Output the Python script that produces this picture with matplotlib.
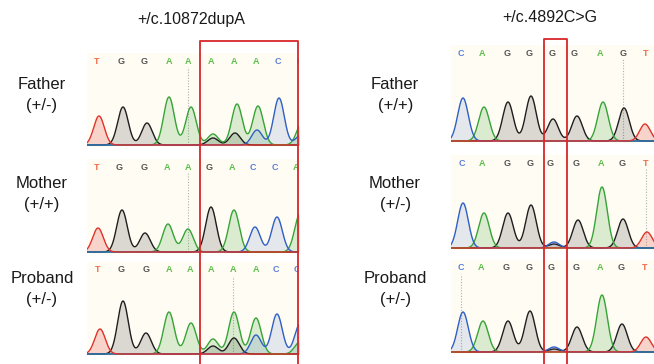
import numpy as np
import matplotlib
matplotlib.use("Agg")
import matplotlib.pyplot as plt
from matplotlib.lines import Line2D

plt.rcParams['font.family'] = ['Liberation Sans', 'DejaVu Sans']

W, H = 654, 364

# ---------------- data ----------------
titles = ["+/c.10872dupA", "+/c.4892C>G"]
members = ["Father", "Mother", "Proband"]
genotypes_left = ["(+/-)", "(+/+)", "(+/-)"]
genotypes_right = ["(+/+)", "(+/-)", "(+/-)"]

# base calls (letters) and their scan positions for each panel
calls_lf = list("TGGAAAAACC")
callpos_lf = [10, 34, 57, 82, 101, 124, 147, 169, 191, 213]
calls_lm = list("TGGAAGACCA")
callpos_lm = [10, 32, 57, 80, 101, 122, 145, 166, 188, 209]
calls_lp = list("TGGAAAAACC")
callpos_lp = [11, 34, 59, 82, 103, 124, 146, 169, 189, 210]
calls_r = list("CAGGGGAGT")
callpos_rf = [10, 31, 56, 78, 101, 123, 149, 172, 195]
callpos_rm = [11, 31, 56, 79, 99, 125, 150, 171, 195]
callpos_rp = [10, 30, 55, 78, 100, 125, 149, 170, 194]

# peaks: scan position, base channel, amplitude
pk_pos_lf = [12, 36, 60, 82, 104, 126, 126, 150, 148, 171, 170, 192, 215, 214]
pk_base_lf = list("TGGAAAGAGACCAC")
pk_amp_lf = [29, 38, 22, 48, 38, 11, 7, 41, 12, 39, 15, 47, 22, 10]

pk_pos_lm = [11, 35, 58, 81, 101, 124, 147, 168, 190, 213]
pk_base_lm = list("TGGAAGACCA")
pk_amp_lm = [24, 42, 19, 28, 23, 45, 42, 25, 35, 38]

pk_pos_lp = [13, 36, 59, 82, 104, 126, 126, 147, 147, 169, 169, 190, 213, 213]
pk_base_lp = list("TGGAAAGAGACCCA")
pk_amp_lp = [25, 53, 21, 42, 31, 15, 8, 42, 16, 36, 19, 40, 30, 12]

pk_pos_rf = [12, 33, 57, 80, 102, 126, 152, 173, 194]
pk_base_rf = list("CAGGGGAGT")
pk_amp_rf = [43, 34, 39, 45, 22, 25, 39, 33, 17]

pk_pos_rm = [12, 33, 57, 80, 103, 103, 127, 151, 172, 196]
pk_base_rm = list("CAGGCGGAGT")
pk_amp_rm = [45, 35, 35, 43, 6, 4, 28, 61, 29, 16]

pk_pos_rp = [12, 32, 57, 79, 103, 103, 126, 151, 171, 195]
pk_base_rp = list("CAGGCGGAGT")
pk_amp_rp = [40, 31, 31, 41, 5, 3, 25, 57, 28, 15]

# cursor (dotted) line positions
cursor_l = [101, 101, 146]
cursor_r = [172, 195, 10]

# ---------------- style ----------------
line_col = {'A': '#36a336', 'C': '#2f5fc4', 'G': '#1e1e1e', 'T': '#e0322a'}
fill_col = {'A': '#36a336', 'C': '#2f5fc4', 'G': '#1e1e1e', 'T': '#e0322a'}
fill_alpha = {'A': 0.18, 'C': 0.13, 'G': 0.16, 'T': 0.2}
text_col = {'A': '#5cbf4a', 'C': '#5a80d6', 'G': '#555555', 'T': '#f06a4a'}
BG = '#fffcf3'
RED = '#d9262a'
SIGMA = 5.3

fig = plt.figure(figsize=(W / 100, H / 100), dpi=100)
fig.patch.set_facecolor('white')


def px_axes(x0, x1, ytop, ybot):
    return fig.add_axes([x0 / W, 1 - ybot / H, (x1 - x0) / W, (ybot - ytop) / H])


def draw_panel(ax, width, height, calls, callpos, pk_pos, pk_base, pk_amp, cursor):
    ax.set_facecolor(BG)
    for s in ax.spines.values():
        s.set_visible(False)
    ax.set_xticks([])
    ax.set_yticks([])
    ax.set_xlim(0, width)
    ax.set_ylim(-2, height - 2)
    x = np.linspace(-10, width + 10, 1200)
    pk_pos = np.asarray(pk_pos, float)
    pk_amp = np.asarray(pk_amp, float)
    pk_base = np.asarray(pk_base)
    for b in ['G', 'A', 'C', 'T']:
        m = pk_base == b
        y = np.zeros_like(x)
        for p, a in zip(pk_pos[m], pk_amp[m]):
            y += a * np.exp(-(x - p) ** 2 / (2 * SIGMA ** 2))
        ax.fill_between(x, 0, y, color=fill_col[b], alpha=fill_alpha[b], lw=0, zorder=2)
        ax.plot(x, y, color=line_col[b], lw=1.0, zorder=3)
    # cursor
    ax.plot([cursor, cursor], [0, height - 16], color='#b0b0b0', lw=0.8,
            ls=(0, (1, 1.5)), zorder=1)
    for c, p in zip(calls, callpos):
        ax.text(p, height - 10, c, color=text_col[c], fontsize=6.5,
                ha='center', va='center', zorder=4, clip_on=True,
                fontweight='bold')


# left panels
L_X0, L_X1 = 87, 299
left_rows = [(53, 147), (159, 254), (262, 356)]
left_data = [
    (calls_lf, callpos_lf, pk_pos_lf, pk_base_lf, pk_amp_lf),
    (calls_lm, callpos_lm, pk_pos_lm, pk_base_lm, pk_amp_lm),
    (calls_lp, callpos_lp, pk_pos_lp, pk_base_lp, pk_amp_lp),
]
for (yt, yb), d, cur in zip(left_rows, left_data, cursor_l):
    ax = px_axes(L_X0, L_X1, yt, yb)
    draw_panel(ax, L_X1 - L_X0, yb - yt, *d, cur)

# right panels
R_X0, R_X1 = 451, 654
right_rows = [(45, 143), (155, 250), (260, 354)]
right_data = [
    (calls_r, callpos_rf, pk_pos_rf, pk_base_rf, pk_amp_rf),
    (calls_r, callpos_rm, pk_pos_rm, pk_base_rm, pk_amp_rm),
    (calls_r, callpos_rp, pk_pos_rp, pk_base_rp, pk_amp_rp),
]
for (yt, yb), d, cur in zip(right_rows, right_data, cursor_r):
    ax = px_axes(R_X0, R_X1, yt, yb)
    draw_panel(ax, R_X1 - R_X0, yb - yt, *d, cur)


def fx(px):
    return px / W


def fy(py):
    return 1 - py / H


# titles
fig.text(fx(191), fy(24), titles[0], ha='center', va='baseline', fontsize=11.5, color='#1a1a1a')
fig.text(fx(550), fy(22), titles[1], ha='center', va='baseline', fontsize=11.5, color='#1a1a1a')

# row labels
lab_base = [(89, 110), (188, 209), (283, 304)]
for (b1, b2), m, gl, gr in zip(lab_base, members, genotypes_left, genotypes_right):
    fig.text(fx(42), fy(b1), m, ha='center', va='baseline', fontsize=12, color='#1a1a1a')
    fig.text(fx(42), fy(b2), gl, ha='center', va='baseline', fontsize=12, color='#1a1a1a')
    fig.text(fx(395), fy(b1), m, ha='center', va='baseline', fontsize=12, color='#1a1a1a')
    fig.text(fx(396), fy(b2), gr, ha='center', va='baseline', fontsize=12, color='#1a1a1a')

# highlight boxes (open at the bottom)
for (bx0, bx1, by) in [(200, 298, 41), (544, 567, 39)]:
    fig.add_artist(Line2D([fx(bx0), fx(bx0), fx(bx1), fx(bx1)],
                          [fy(H + 2), fy(by), fy(by), fy(H + 2)],
                          transform=fig.transFigure, color=RED, lw=1.3, zorder=10))

fig.savefig('out.png', dpi=100, facecolor='white')
